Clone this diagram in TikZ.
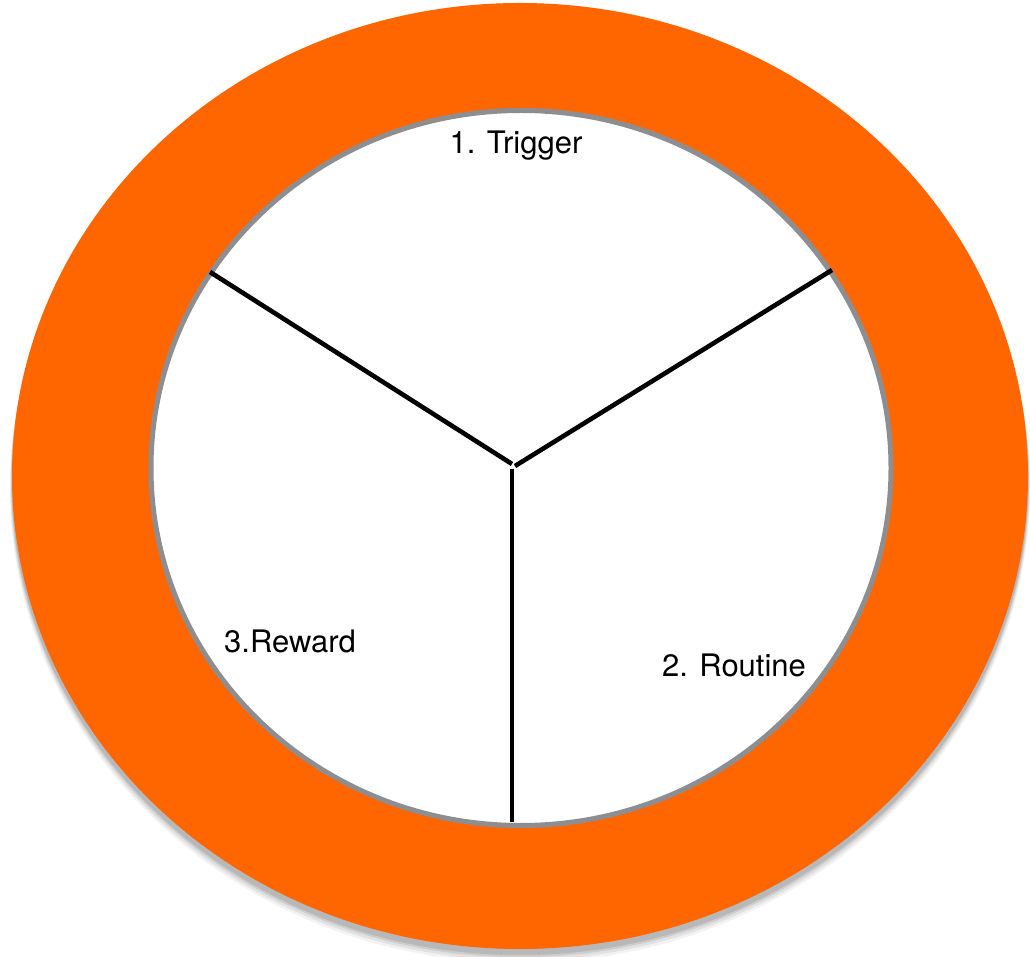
\documentclass[tikz,border=0pt]{standalone}
\usepackage{fontspec}
\setmainfont{TeX Gyre Heros}
\usetikzlibrary{shapes.geometric}
\definecolor{ringorange}{HTML}{FF6600}
\definecolor{rimgray}{HTML}{8C8E92}
\begin{document}
\begin{tikzpicture}[x=1pt,y=1pt,
  spoke/.style={line width=4.6pt,black},
  lbl/.style={font=\fontsize{31}{33}\selectfont,text=black,inner sep=0pt}]
\useasboundingbox (0,0) rectangle (1030,956);
% soft shadow
\foreach \o/\a in {7/0.05,5/0.07,3/0.09,1.5/0.1}{
  \fill[black,opacity=\a] (520,476-\o) ellipse [x radius=508+\o*0.3, y radius=473+\o*0.4];
}
\fill[ringorange] (520,480) ellipse [x radius=508, y radius=473];
\node[ellipse,draw=rimgray,line width=5pt,fill=white,minimum width=740pt,minimum height=715pt,inner sep=0pt] (inner) at (521,488) {};
\coordinate (c) at (512,492);
\coordinate (pl) at (210,684);
\coordinate (pr) at (832,686);
\coordinate (pb) at (512,134);
\draw[spoke] (c) -- (pl);
\draw[spoke] ([xshift=3pt,yshift=-2pt]c) -- (pr);
\draw[spoke] ([yshift=-5pt]c) -- (pb);
\node[lbl] (t1) at (516,810) {1. Trigger};
\node[lbl] (t2) at (734,291) {2. Routine};
\node[lbl] (t3) at (290,315) {3.Reward};
\end{tikzpicture}
\end{document}
